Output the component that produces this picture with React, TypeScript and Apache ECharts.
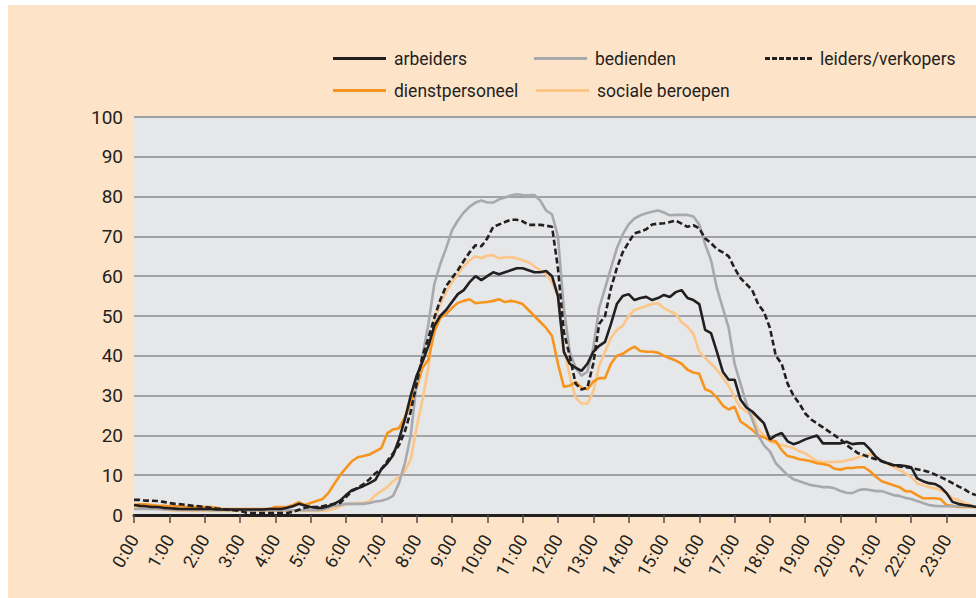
import React, { useEffect, useRef } from "react";
import * as echarts from "echarts";

// 10-minute time slots 0:00 .. 23:50
const times: string[] = [];
for (let h = 0; h < 24; h++) {
  for (let m = 0; m < 60; m += 10) times.push(`${h}:${String(m).padStart(2, "0")}`);
}

const yTicks = [0, 10, 20, 30, 40, 50, 60, 70, 80, 90, 100];

const arbeiders = [
  2.5, 2.3, 2.2, 2.0, 2.0, 1.8,
  1.7, 1.6, 1.5, 1.5, 1.5, 1.5,
  1.5, 1.5, 1.4, 1.4, 1.4, 1.4,
  1.4, 1.4, 1.4, 1.4, 1.4, 1.5,
  1.5, 1.5, 1.8, 2.2, 2.8, 2.4,
  2.0, 1.8, 1.8, 2.2, 2.8, 3.6,
  5.0, 6.2, 6.7, 7.3, 8.0, 8.8,
  11.5, 13.0, 15.0, 19.0, 24.0, 30.0,
  35.0, 38.5, 42.5, 47.5, 50.0, 51.5,
  53.5, 55.5, 56.5, 58.5, 60.0, 59.0,
  60.0, 61.0, 60.5, 61.0, 61.5, 62.0,
  62.0, 61.5, 61.0, 61.0, 61.3, 60.0,
  55.0, 41.0, 38.0, 37.0, 36.2, 38.0,
  41.0, 42.5, 43.5, 48.0, 53.0, 55.0,
  55.5, 54.0, 54.5, 54.8, 54.0, 54.5,
  55.3, 54.8, 56.0, 56.5, 54.5, 54.0,
  53.0, 46.5, 45.7, 41.0, 36.0, 34.0,
  34.0, 29.0, 27.0, 26.0, 24.5, 23.0,
  19.0, 20.0, 20.6, 18.5, 17.8, 18.3,
  19.0, 19.5, 20.0, 18.0, 18.0, 18.0,
  18.0, 18.4, 17.8, 18.0, 18.0, 16.5,
  14.6, 13.5, 13.0, 12.5, 12.5, 12.3,
  12.0, 9.2, 8.5, 8.0, 7.8, 7.0,
  5.5, 3.3, 2.8, 2.5, 2.3, 2.0,
];

const bedienden = [
  1.5, 1.5, 1.5, 1.5, 1.5, 1.4,
  1.4, 1.3, 1.3, 1.3, 1.3, 1.3,
  1.3, 1.2, 1.2, 1.2, 1.2, 1.2,
  1.2, 1.2, 1.2, 1.2, 1.2, 1.2,
  1.2, 1.2, 1.2, 1.2, 1.2, 1.2,
  1.2, 1.2, 1.3, 1.8, 2.3, 2.5,
  2.8, 2.8, 2.8, 2.8, 3.0, 3.4,
  3.6, 4.0, 4.8, 8.0, 13.0, 20.0,
  33.0, 40.0, 48.0, 58.0, 63.0, 67.0,
  71.5, 74.0, 76.0, 77.5, 78.5, 79.0,
  78.5, 78.5, 79.3, 79.8, 80.3, 80.6,
  80.4, 80.3, 80.4, 79.0, 76.5, 75.5,
  70.0, 52.0, 41.0, 37.0, 35.0, 36.0,
  42.0, 52.0, 57.0, 62.0, 67.0, 70.5,
  73.0, 74.5, 75.3, 75.8, 76.2, 76.5,
  76.0, 75.3, 75.4, 75.4, 75.4, 75.0,
  73.0, 68.0, 64.0, 57.0, 52.0, 47.0,
  38.0, 33.0, 28.0, 24.0, 20.0, 17.5,
  16.0, 13.0, 11.5, 10.0, 9.0, 8.5,
  8.0, 7.5, 7.3, 7.0, 7.0, 6.7,
  6.0, 5.6, 5.5, 6.2, 6.5, 6.3,
  6.0, 6.0, 5.5, 5.0, 4.8, 4.3,
  4.0, 3.5, 3.0, 2.5, 2.3, 2.2,
  2.2, 2.2, 2.2, 2.2, 2.2, 2.0,
];

const leidersVerkopers = [
  3.8, 3.8, 3.6, 3.6, 3.5, 3.3,
  3.0, 2.8, 2.7, 2.5, 2.3, 2.2,
  2.0, 1.8, 1.6, 1.5, 1.3, 1.2,
  1.0, 0.6, 0.5, 0.5, 0.5, 0.5,
  0.5, 0.5, 0.5, 0.8, 1.3, 1.8,
  2.0, 2.0, 2.2, 2.5, 2.8, 3.0,
  4.5, 6.0, 6.8, 7.8, 9.0, 10.5,
  11.5, 13.5, 15.5, 17.5, 21.0, 26.0,
  33.0, 40.0, 44.5, 49.5, 54.0, 57.5,
  59.5, 61.5, 63.8, 66.0, 67.8, 67.5,
  69.5, 72.4, 73.0, 73.6, 74.2, 74.2,
  73.8, 72.9, 72.9, 72.9, 72.7, 72.4,
  62.0, 46.0, 40.0, 33.0, 31.5, 32.0,
  38.0, 48.0, 50.0, 57.0, 62.0, 66.0,
  68.5, 70.8, 71.2, 71.8, 73.0, 73.2,
  73.3, 73.6, 74.0, 73.2, 72.4, 72.8,
  72.0, 69.5, 68.3, 66.8, 66.0, 65.0,
  62.0, 59.5, 58.0, 56.5, 53.0, 51.0,
  47.0, 40.0, 38.0, 33.0, 30.0, 28.0,
  25.5, 24.0, 23.0, 22.0, 21.0, 20.0,
  19.0, 17.6, 16.5, 15.5, 15.0, 14.5,
  14.0, 13.5, 13.0, 12.5, 12.2, 12.0,
  11.8, 11.5, 11.2, 10.8, 10.2, 9.5,
  8.8, 8.0, 7.2, 6.5, 5.5, 5.0,
];

const dienstpersoneel = [
  2.5, 2.7, 2.7, 2.5, 2.3, 2.3,
  2.2, 2.2, 2.2, 2.0, 2.0, 2.0,
  2.0, 2.0, 1.8, 1.5, 1.5, 1.5,
  1.5, 1.5, 1.5, 1.5, 1.5, 1.5,
  2.0, 2.0, 2.0, 2.5, 3.2, 2.5,
  3.0, 3.5, 4.0, 5.5, 7.8, 10.0,
  11.8, 13.5, 14.5, 14.8, 15.2, 16.0,
  16.8, 20.5, 21.5, 21.8, 24.5, 28.0,
  32.0, 37.0, 39.0, 46.0, 49.5, 50.5,
  52.0, 53.3, 53.8, 54.2, 53.2, 53.4,
  53.5, 53.8, 54.2, 53.5, 53.8, 53.5,
  53.0, 51.5, 50.0, 48.5, 47.0, 45.0,
  38.0, 32.2, 32.5, 33.4, 32.0, 31.6,
  33.5, 34.4, 34.4, 38.0, 40.0, 40.5,
  41.5, 42.3, 41.2, 41.0, 41.0, 40.8,
  40.0, 39.4, 38.8, 38.0, 36.5, 35.8,
  35.5, 31.6, 31.0, 29.5, 27.5, 26.5,
  27.2, 23.5, 22.5, 21.4, 20.0, 19.5,
  18.8, 18.5, 16.3, 14.8, 14.5, 14.0,
  13.8, 13.5, 13.0, 12.8, 12.5, 11.6,
  11.4, 11.8, 11.8, 12.0, 12.0, 11.0,
  9.6, 8.5, 8.0, 7.5, 7.0, 6.0,
  5.9, 5.0, 4.2, 4.2, 4.2, 4.0,
  2.5, 2.3, 2.0, 2.0, 2.0, 2.0,
];

const socialeBeroepen = [
  1.8, 1.8, 1.7, 1.6, 1.5, 1.4,
  1.2, 1.1, 1.1, 1.0, 1.0, 1.0,
  1.0, 1.0, 1.0, 1.0, 1.0, 1.0,
  1.0, 1.0, 1.0, 1.0, 1.0, 1.0,
  1.0, 1.0, 1.0, 1.0, 1.0, 1.0,
  1.0, 1.0, 1.0, 1.2, 1.5, 2.2,
  2.7, 2.8, 3.0, 3.0, 3.5, 5.0,
  6.0, 7.0, 8.5, 9.5, 11.0, 14.0,
  22.0, 29.0, 37.0, 49.0, 53.0, 56.0,
  58.5, 60.5, 62.5, 64.0, 65.0, 64.5,
  65.2, 65.3, 64.5, 64.7, 64.8, 64.5,
  64.0, 63.5, 62.5, 61.5, 60.5, 58.5,
  55.0, 42.0, 35.0, 29.5, 28.0, 28.0,
  31.0, 37.5, 41.0, 44.5, 46.5, 47.5,
  50.0, 51.5, 52.0, 52.5, 53.0, 53.2,
  52.0, 51.2, 50.5, 48.5, 47.3, 45.5,
  41.0, 39.5, 38.0, 36.5, 34.5, 32.5,
  29.5, 27.0, 26.0, 25.0, 21.5, 20.0,
  18.4, 18.0, 17.6, 17.2, 16.8, 16.0,
  15.5, 14.5, 13.5, 13.3, 13.3, 13.3,
  13.4, 13.7, 14.0, 14.5, 15.0, 15.3,
  14.5, 13.5, 12.8, 12.1, 11.3, 10.5,
  9.5, 8.0, 7.5, 7.0, 6.7, 6.2,
  5.5, 4.2, 3.8, 3.0, 2.5, 2.0,
];

const FONT = "Roboto, 'Liberation Sans', sans-serif";
const TEXT = "#231f20";

const C_ARB = "#231f20";
const C_BED = "#a7a9ac";
const C_LEI = "#231f20";
const C_DIE = "#f7941d";
const C_SOC = "#fdc689";

const SOLID_ICON = "path://M0,0h53v3h-53z";
const DASH_ICON =
  "path://M0,0h5v3h-5z M7,0h5v3h-5z M14,0h5v3h-5z M21,0h5v3h-5z M28,0h5v3h-5z M35,0h5v3h-5z M42,0h5v3h-5z";

export default function App() {
  const ref = useRef<HTMLDivElement>(null);

  useEffect(() => {
    if (!ref.current) return;
    const chart = echarts.init(ref.current, undefined, { renderer: "svg" });

    const mkLegend = (name: string, left: number, centerY: number, dashed = false) => ({
      data: [{ name, icon: dashed ? DASH_ICON : SOLID_ICON }],
      left,
      top: centerY - 9.5,
      padding: 0,
      itemWidth: dashed ? 47 : 53,
      itemHeight: 3,
      symbolKeepAspect: false,
      selectedMode: false,
      textStyle: { fontFamily: FONT, fontSize: 17.5, color: TEXT, padding: [0, 0, 0, 3] },
    });

    const line = (name: string, data: number[], color: string, dashed = false, z = 2) => ({
      name,
      type: "line",
      data,
      showSymbol: false,
      symbol: "none",
      z,
      lineStyle: { color, width: 2.6, type: dashed ? [6, 3] : "solid" },
      itemStyle: { color },
    });

    chart.setOption({
      animation: false,
      backgroundColor: "#fde4c9",
      legend: [
        mkLegend("arbeiders", 325, 54),
        mkLegend("bedienden", 526, 54),
        mkLegend("leiders/verkopers", 757, 54, true),
        mkLegend("dienstpersoneel", 325, 86),
        mkLegend("sociale beroepen", 528, 86),
      ],
      grid: {
        left: 126,
        top: 112,
        right: -4,
        bottom: 83,
        show: true,
        backgroundColor: "#e6e7e8",
        borderWidth: 0,
      },
      xAxis: {
        type: "category",
        data: times,
        boundaryGap: false,
        axisLine: { show: true, lineStyle: { color: TEXT, width: 3 } },
        axisTick: { show: true, interval: 5, length: 8, lineStyle: { color: "#4d4d4f", width: 1.5 } },
        axisLabel: {
          interval: 5,
          rotate: 60,
          margin: 21,
          fontFamily: FONT,
          fontSize: 18,
          color: TEXT,
        },
        splitLine: { show: false },
        z: 10,
      },
      yAxis: {
        type: "value",
        min: yTicks[0],
        max: yTicks[yTicks.length - 1],
        interval: 10,
        axisLine: { show: false },
        axisTick: { show: false },
        axisLabel: { fontFamily: FONT, fontSize: 19, color: TEXT, margin: 11 },
        splitLine: { show: true, lineStyle: { color: "#a0a2a5", width: 1.8 } },
      },
      series: [
        line("sociale beroepen", socialeBeroepen, C_SOC, false, 2),
        line("dienstpersoneel", dienstpersoneel, C_DIE, false, 3),
        line("bedienden", bedienden, C_BED, false, 4),
        line("arbeiders", arbeiders, C_ARB, false, 5),
        line("leiders/verkopers", leidersVerkopers, C_LEI, true, 6),
      ],
    });

    return () => chart.dispose();
  }, []);

  return (
    <div
      ref={ref}
      style={{ position: "absolute", left: 8, top: 5, width: 968, height: 593 }}
    />
  );
}
